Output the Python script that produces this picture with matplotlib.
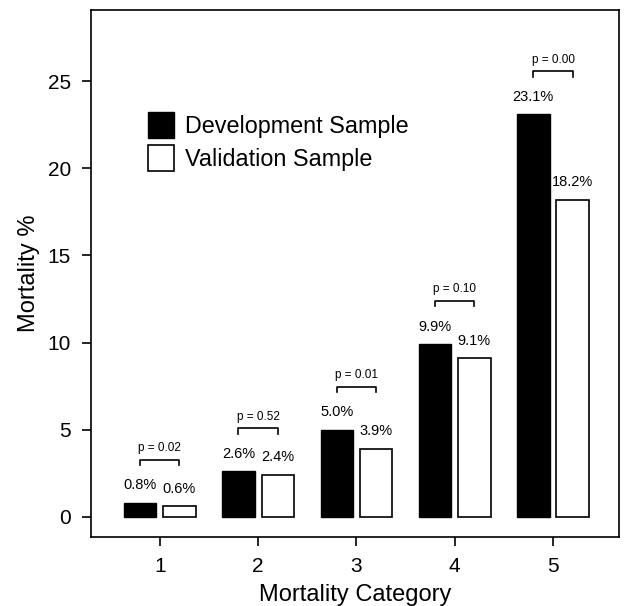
import numpy as np
import matplotlib.pyplot as plt

categories = [1, 2, 3, 4, 5]
development = [0.8, 2.6, 5.0, 9.9, 23.1]
validation = [0.6, 2.4, 3.9, 9.1, 18.2]
p_values = ["0.02", "0.52", "0.01", "0.10", "0.00"]

plt.rcParams['font.family'] = ['Liberation Sans', 'DejaVu Sans']

OFFSET = 0.2
WIDTH = 0.33

fig = plt.figure(figsize=(6.24, 6.06), dpi=100)
ax = fig.add_axes([0.1458, 0.1139, 0.846, 0.8696])

x = np.array(categories, dtype=float)
ax.bar(x - OFFSET, development, width=WIDTH, color='black', edgecolor='black',
       linewidth=1, label='Development Sample')
ax.bar(x + OFFSET, validation, width=WIDTH, color='white', edgecolor='black',
       linewidth=1.2, label='Validation Sample')

# value labels
for xi, d, v in zip(x, development, validation):
    ax.text(xi - OFFSET, d + 1.0, f"{d:.1f}%", ha='center', va='center', fontsize=10.5)
    ax.text(xi + OFFSET, v + 1.0, f"{v:.1f}%", ha='center', va='center', fontsize=10.5)

# p-value brackets
for xi, d, v, p in zip(x, development, validation, p_values):
    top = max(d, v) + 2.47
    ax.plot([xi - OFFSET, xi - OFFSET, xi + OFFSET, xi + OFFSET],
            [top - 0.3, top, top, top - 0.3], color='black', linewidth=1.2)
    ax.text(xi, top + 0.68, f"p = {p}", ha='center', va='center', fontsize=8.5)

ax.set_xlim(0.3, 5.67)
ax.set_ylim(-1.17, 29.1)
ax.set_xticks(categories)
ax.set_yticks([0, 5, 10, 15, 20, 25])
ax.tick_params(axis='both', labelsize=15, length=6.5, width=1.2, pad=8)

for s in ax.spines.values():
    s.set_linewidth(1.2)

ax.set_xlabel('Mortality Category', fontsize=17)
ax.set_ylabel('Mortality %', fontsize=17)
ax.xaxis.set_label_coords(0.5, -0.09)
ax.yaxis.set_label_coords(-0.097, 0.5)

ax.legend(loc='upper left', bbox_to_anchor=(0.1085, 0.807), frameon=False,
          fontsize=16.8, handlelength=1.12, handleheight=1.36, labelspacing=0.28,
          handletextpad=0.46, borderpad=0, borderaxespad=0)

plt.savefig('out.png', dpi=100)
